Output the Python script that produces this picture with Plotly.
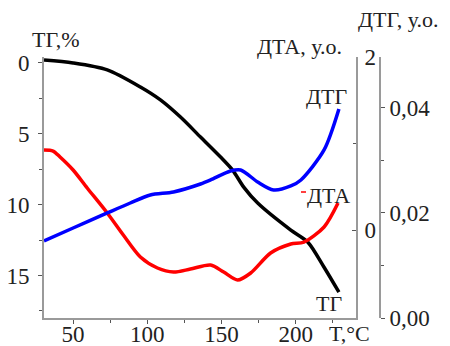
import plotly.graph_objects as go

# ---- data ----
tg_t = [30.4, 50, 73, 95.3, 108.8, 122.3, 135.8, 149.3, 157.4, 164.9, 174.3, 196.6, 208.1, 219, 229]
tg_v = [-0.21, 0.0, 0.49, 1.70, 2.61, 3.82, 5.23, 6.64, 7.56, 8.76, 9.89, 11.80, 12.65, 14.42, 16.18]

dta_t = [30.4, 36.5, 41.2, 50, 59.5, 73, 83.8, 95.3, 106.8, 117.6, 129, 142.6, 151.4, 160.8, 169.6, 183, 196.6, 205.4, 219, 228.4]
dta_v = [0.925, 0.913, 0.844, 0.694, 0.486, 0.197, -0.058, -0.312, -0.439, -0.486, -0.451, -0.405, -0.486, -0.578, -0.497, -0.266, -0.162, -0.139, 0.035, 0.312]

dtg_t = [30.4, 50, 73, 88.5, 102, 117.6, 135.8, 142.6, 156, 162.8, 174.3, 185, 196.6, 203.4, 219, 229]
dtg_v = [0.01467, 0.01714, 0.0200, 0.0219, 0.02343, 0.0240, 0.02552, 0.02629, 0.0280, 0.02819, 0.0259, 0.02438, 0.02514, 0.02629, 0.0320, 0.0398]

x_ticks = [50, 100, 150, 200]
tg_ticks = [0, 5, 10, 15]
dta_ticks = [0, 2]
dtg_ticks = [0.00, 0.02, 0.04]
dtg_labels = ["0,00", "0,02", "0,04"]

# ---- layout geometry ----
W, H = 450, 346
L, R, T, B = 44, 70, 57, 28
PW, PH = W - L - R, H - T - B


def px(x):
    return (x - L) / PW


def py(y):
    return (H - B - y) / PH


FONT = "Liberation Serif"
FS = 22
TFS = 23
TXT = "#222222"
AX = "#9a9a9a"

fig = go.Figure()
fig.add_trace(go.Scatter(x=tg_t, y=tg_v, mode="lines", yaxis="y",
                         line=dict(color="#000000", width=3.5, shape="spline", smoothing=0.8)))
fig.add_trace(go.Scatter(x=dta_t, y=dta_v, mode="lines", yaxis="y2",
                         line=dict(color="#ff0000", width=3.5, shape="spline", smoothing=0.8)))
fig.add_trace(go.Scatter(x=dtg_t, y=dtg_v, mode="lines", yaxis="y3",
                         line=dict(color="#0000ff", width=3.5, shape="spline", smoothing=0.8)))

xdom = (356 - L) / PW

common = dict(showgrid=False, zeroline=False, showline=True, linecolor=AX, linewidth=2,
              tickcolor="#555", tickwidth=1, automargin=False,
              tickfont=dict(family=FONT, size=TFS, color=TXT))

fig.update_layout(
    width=W, height=H,
    margin=dict(l=L, r=R, t=T, b=B, autoexpand=False),
    paper_bgcolor="white", plot_bgcolor="white",
    showlegend=False,
    font=dict(family=FONT, size=FS, color=TXT),
    xaxis=dict(domain=[0, xdom], range=[30.4, 240.5], tickvals=x_ticks,
               ticks="outside", ticklen=4,
               minor=dict(tickvals=[75, 125, 175, 225], ticks="outside", ticklen=3, tickcolor="#555"),
               ticklabelstandoff=-10, **common),
    yaxis=dict(range=[18.0, -0.42], tickvals=tg_ticks, anchor="x",
               ticks="outside", ticklen=4,
               minor=dict(tickvals=[2.5, 7.5, 12.5, 17.5], ticks="outside", ticklen=3, tickcolor="#555"),
               ticklabelstandoff=4, **common),
    yaxis2=dict(range=[-1.017, 2.0], tickvals=dta_ticks, overlaying="y", side="right", anchor="x",
                ticks="inside", ticklen=4,
                minor=dict(tickvals=[1], ticks="inside", ticklen=3, tickcolor="#555"),
                ticklabelstandoff=2, **common),
    yaxis3=dict(range=[0, 0.0497], tickvals=dtg_ticks, ticktext=dtg_labels, overlaying="y",
                side="right", anchor="free", position=1.0,
                ticks="outside", ticklen=4,
                minor=dict(tickvals=[0.01, 0.03], ticks="outside", ticklen=3, tickcolor="#555"),
                ticklabelstandoff=0, **common),
)

ann = [
    ("ТГ,%", 30, 40, "left"),
    ("ДТА, у.о.", 344, 47, "right"),
    ("ДТГ, у.о.", 356, 20, "left"),
    ("ДТГ", 304, 96, "left"),
    ("ДТА", 305, 195, "left"),
    ("ТГ", 314, 303, "left"),
    ("T,°C", 327, 333, "left"),
]
for text, x, y, xa in ann:
    fig.add_annotation(text=text, x=px(x), y=py(y), xref="paper", yref="paper",
                       xanchor=xa, yanchor="middle", showarrow=False,
                       font=dict(family=FONT, size=FS, color=TXT))

fig.add_shape(type="line", xref="paper", yref="paper", x0=px(301), x1=px(306), y0=py(192), y1=py(192),
              line=dict(color="#ff0000", width=1.5))

fig.write_html("out.html")
